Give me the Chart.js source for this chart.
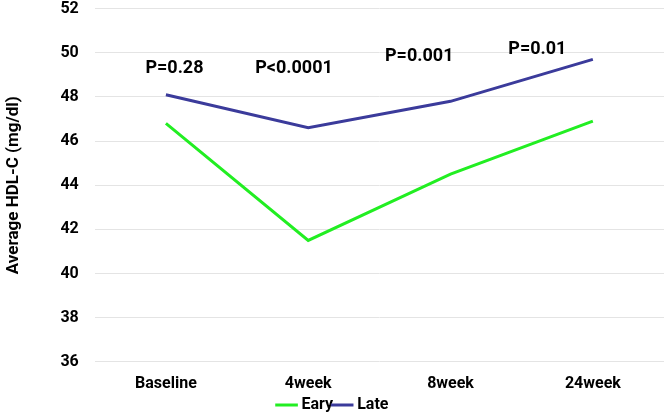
<!DOCTYPE html>
<html>
<head>
<meta charset="utf-8">
<script src="https://cdn.jsdelivr.net/npm/chart.js@4/dist/chart.umd.min.js"></script>
<style>
    html, body { margin: 0; padding: 0; background: #fff; overflow: hidden; }
    #wrap { position: absolute; left: 0; top: -17px; width: 664px; height: 440px; }
</style>
</head>
<body>
<div id="wrap"><canvas id="graficoHdl"></canvas></div>
<script>

const categorias = ['Baseline', '4week', '8week', '24week'];
const valoresEary = [46.8, 41.5, 44.5, 46.9];
const valoresLate = [48.1, 46.6, 47.8, 49.7];
const textosP = ['P=0.28', 'P<0.0001', 'P=0.001', 'P=0.01'];

const fonte = "Roboto, 'Liberation Sans', Arial, sans-serif";

// onde cada texto de P fica (indice da categoria, valor no eixo y)
const posicoesP = [
    { x: 0.06, y: 49.3 },
    { x: 0.90, y: 49.3 },
    { x: 1.78, y: 49.85 },
    { x: 2.61, y: 50.15 }
];

const pluginTextosP = {
    id: 'textosP',
    afterDatasetsDraw(chart) {
        const ctx = chart.ctx;
        const escX = chart.scales.x;
        const escY = chart.scales.y;
        const passo = escX.getPixelForValue(1) - escX.getPixelForValue(0);
        ctx.save();
        ctx.font = 'bold 18px ' + fonte;
        ctx.fillStyle = '#000';
        ctx.textAlign = 'center';
        ctx.textBaseline = 'middle';
        textosP.forEach((texto, i) => {
            const pos = posicoesP[i];
            const x = escX.getPixelForValue(0) + pos.x * passo;
            const y = escY.getPixelForValue(pos.y);
            ctx.fillText(texto, x, y);
        });
        ctx.restore();
    }
};

let graficoHdl;

document.addEventListener('DOMContentLoaded', function() {
    const ctx = document.getElementById('graficoHdl').getContext('2d');

    graficoHdl = new Chart(ctx, {
        type: 'line',
        data: {
            labels: categorias,
            datasets: [
                {
                    label: 'Eary',
                    data: valoresEary,
                    borderColor: '#22ee22',
                    backgroundColor: '#22ee22',
                    borderWidth: 3,
                    pointRadius: 0,
                    tension: 0
                },
                {
                    label: 'Late',
                    data: valoresLate,
                    borderColor: '#3b3b9b',
                    backgroundColor: '#3b3b9b',
                    borderWidth: 3,
                    pointRadius: 0,
                    tension: 0
                }
            ]
        },
        options: {
            responsive: true,
            maintainAspectRatio: false,
            animation: false,
            layout: {
                padding: { top: 0, right: 0, bottom: 0, left: 4 }
            },
            plugins: {
                legend: {
                    position: 'bottom',
                    labels: {
                        usePointStyle: true,
                        pointStyle: 'line',
                        boxWidth: 14,
                        padding: 2,
                        color: '#000',
                        font: { family: fonte, size: 16, weight: 'bold' }
                    }
                },
                tooltip: { enabled: false }
            },
            scales: {
                x: {
                    offset: true,
                    grid: { display: false, drawTicks: false },
                    border: { display: false },
                    ticks: {
                        color: '#000',
                        padding: 13,
                        font: { family: fonte, size: 16, weight: 'bold' }
                    },
                    afterFit: function(escala) {
                        escala.height = escala.height - 12;
                    }
                },
                y: {
                    min: 36,
                    max: 52,
                    grid: { color: '#e4e4e4', drawTicks: false },
                    border: { display: false },
                    ticks: {
                        stepSize: 2,
                        color: '#000',
                        padding: 16,
                        font: { family: fonte, size: 16, weight: 'bold' }
                    },
                    title: {
                        display: true,
                        text: 'Average HDL-C (mg/dl)',
                        color: '#000',
                        font: { family: fonte, size: 17, weight: 'bold' },
                        padding: { top: 0, bottom: 20 }
                    }
                }
            }
        },
        plugins: [pluginTextosP]
    });
});
</script>
</body>
</html>
